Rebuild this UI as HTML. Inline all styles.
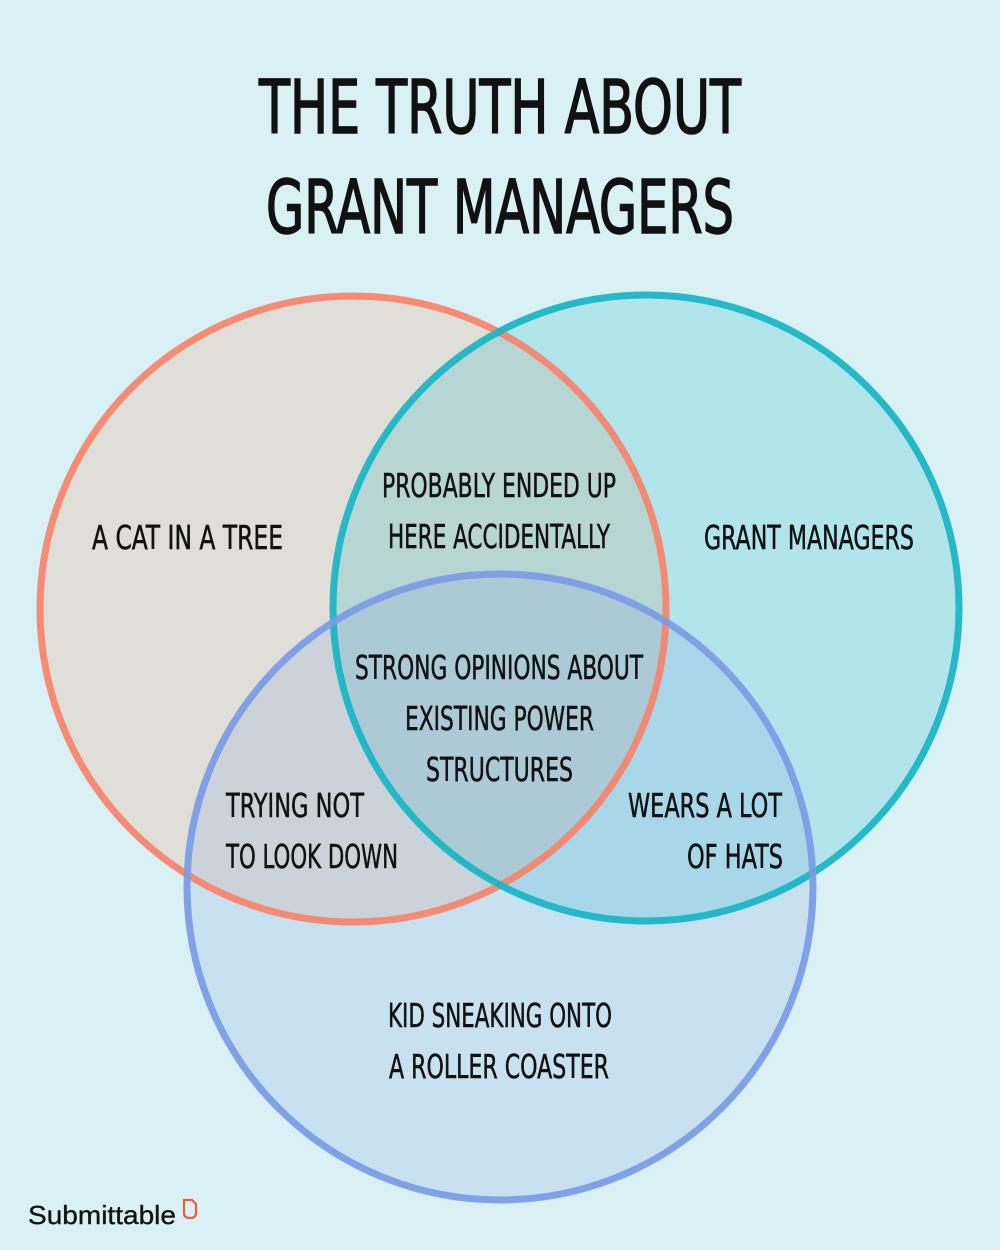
<!DOCTYPE html>
<html><head><meta charset="utf-8"><style>
html,body{margin:0;padding:0;background:#d9f1f5;}
svg{display:block;}
text{font-family:"DejaVu Sans Condensed","Liberation Sans Narrow","Liberation Sans",sans-serif;fill:#111;}
</style></head><body>
<svg width="1000" height="1250" viewBox="0 0 1000 1250" xmlns="http://www.w3.org/2000/svg">
<rect width="1000" height="1250" fill="#d9f1f5"/>
<text x="500" y="133" font-size="74" text-anchor="middle" textLength="482" lengthAdjust="spacingAndGlyphs" stroke="#111" stroke-width="1.5">THE TRUTH ABOUT</text>
<text x="500" y="233" font-size="74" text-anchor="middle" textLength="468" lengthAdjust="spacingAndGlyphs" stroke="#111" stroke-width="1.5">GRANT MANAGERS</text>
<circle cx="353" cy="609" r="313" fill="#f49a70" fill-opacity="0.22"/>
<circle cx="646" cy="608" r="313" fill="#17b5c4" fill-opacity="0.2"/>
<circle cx="500" cy="887" r="313" fill="#7a9be6" fill-opacity="0.18"/>
<circle cx="353" cy="609" r="313" fill="none" stroke="#f7836a" stroke-width="7" stroke-opacity="0.92"/>
<circle cx="646" cy="608" r="313" fill="none" stroke="#17b5c4" stroke-width="7" stroke-opacity="0.92"/>
<circle cx="500" cy="887" r="313" fill="none" stroke="#7a9be6" stroke-width="7" stroke-opacity="0.92"/>
<g font-size="33" stroke="#111" stroke-width="0.5">
<text x="92" y="549" textLength="191" lengthAdjust="spacingAndGlyphs">A CAT IN A TREE</text>
<text x="382" y="497" textLength="234" lengthAdjust="spacingAndGlyphs">PROBABLY ENDED UP</text>
<text x="388" y="548" textLength="222" lengthAdjust="spacingAndGlyphs">HERE ACCIDENTALLY</text>
<text x="704" y="549" textLength="210" lengthAdjust="spacingAndGlyphs">GRANT MANAGERS</text>
<text x="355" y="679" textLength="288" lengthAdjust="spacingAndGlyphs">STRONG OPINIONS ABOUT</text>
<text x="405" y="730" textLength="189" lengthAdjust="spacingAndGlyphs">EXISTING POWER</text>
<text x="426" y="781" textLength="147" lengthAdjust="spacingAndGlyphs">STRUCTURES</text>
<text x="226" y="817" textLength="138" lengthAdjust="spacingAndGlyphs">TRYING NOT</text>
<text x="226" y="868" textLength="172" lengthAdjust="spacingAndGlyphs">TO LOOK DOWN</text>
<text x="628" y="817" textLength="154" lengthAdjust="spacingAndGlyphs">WEARS A LOT</text>
<text x="687" y="868" textLength="96" lengthAdjust="spacingAndGlyphs">OF HATS</text>
<text x="388" y="1027" textLength="224" lengthAdjust="spacingAndGlyphs">KID SNEAKING ONTO</text>
<text x="389" y="1078" textLength="220" lengthAdjust="spacingAndGlyphs">A ROLLER COASTER</text>
</g>
<text x="28" y="1224" font-size="26" style="font-family:'Liberation Sans',sans-serif" fill="#222" stroke="#222" stroke-width="0.4" textLength="148" lengthAdjust="spacingAndGlyphs">Submittable</text>
<path d="M184 1200 L184 1213 Q184 1218 190 1218 Q196 1218 196 1213 L196 1204 L192 1200 Z" fill="none" stroke="#f05a3a" stroke-width="2.2"/>
</svg>
</body></html>
